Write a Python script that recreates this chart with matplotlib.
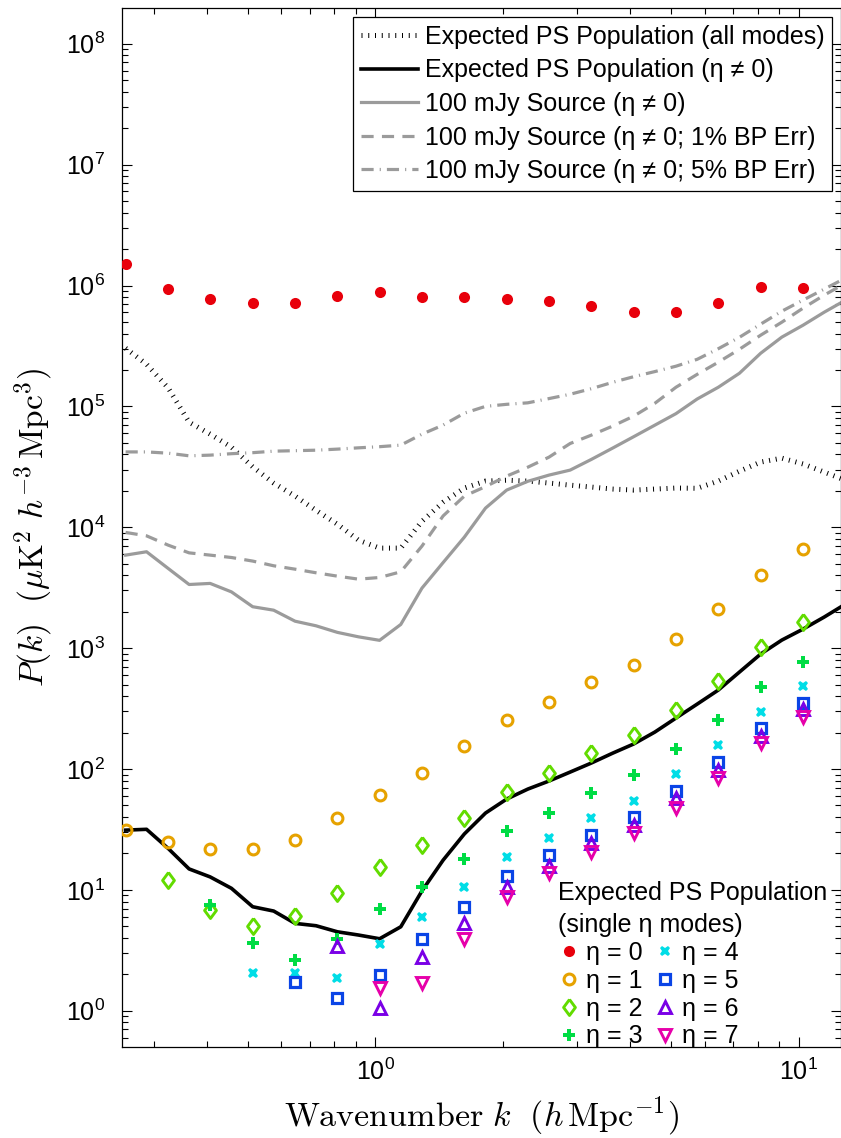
import numpy as np
import matplotlib
matplotlib.use("Agg")
import matplotlib.pyplot as plt
from matplotlib.ticker import LogLocator, FixedLocator, FuncFormatter, NullFormatter

# Wavenumbers of the individual eta-mode power spectra (h/Mpc)
k_modes = [0.257, 0.324, 0.407, 0.513, 0.646, 0.813, 1.023, 1.288, 1.622,
           2.042, 2.570, 3.236, 4.074, 5.129, 6.457, 8.128, 10.233]

# Finer wavenumber grid of the continuous curves (h/Mpc)
k_curve = [0.257, 0.288, 0.324, 0.363, 0.407, 0.457, 0.513, 0.575, 0.646,
           0.724, 0.813, 0.912, 1.023, 1.148, 1.288, 1.445, 1.622, 1.820,
           2.042, 2.291, 2.570, 2.884, 3.236, 3.631, 4.074, 4.571, 5.129,
           5.754, 6.457, 7.244, 8.128, 9.120, 10.233, 11.482, 12.882]

# Expected point-source population, all modes
ps_all_modes = [303000, 223000, 142000, 74000, 58900, 46000, 31600, 23200,
                18100, 13800, 10600, 7820, 6720, 6720, 11200, 16100, 21100,
                24100, 24500, 24100, 23200, 22300, 21500, 20700, 20300,
                20700, 21100, 21000, 24100, 29100, 34600, 37300, 33400,
                28600, 24500]

# Expected point-source population, eta != 0
ps_eta_nonzero = [31.2, 31.7, 22.0, 14.9, 12.8, 10.3, 7.25, 6.68, 5.28, 5.05,
                  4.50, 4.23, 3.94, 4.95, 9.8, 17.6, 29.0, 43.2, 56.4, 68.2,
                  79.5, 94.3, 112, 135, 161, 202, 264, 344, 450, 634, 893,
                  1165, 1436, 1806, 2310]

# 100 mJy source, eta != 0
src_100 = [5880, 6270, 4560, 3360, 3430, 2920, 2200, 2060, 1670, 1530, 1350,
           1240, 1160, 1570, 3135, 5100, 8280, 14400, 20300, 24000, 27000,
           29700, 36400, 45100, 56100, 69900, 87100, 115000, 144000, 188000,
           275000, 374000, 469000, 601000, 755000]

# 100 mJy source, eta != 0, 1% bandpass error
src_100_bp1 = [9060, 8490, 7110, 6140, 5880, 5620, 5250, 4800, 4500, 4200,
               3940, 3720, 3840, 4280, 6980, 12400, 18100, 21700, 26500,
               31400, 38000, 49300, 57800, 68600, 83000, 106000, 144000,
               184000, 232000, 297000, 388000, 497000, 649000, 832000,
               1045000]

# 100 mJy source, eta != 0, 5% bandpass error
src_100_bp5 = [42000, 42000, 41000, 39000, 39500, 40600, 41400, 42600, 43000,
               43400, 44300, 45400, 46400, 47800, 58900, 70000, 87900, 100000,
               104000, 107000, 116000, 126000, 140000, 158000, 176000, 194000,
               215000, 245000, 300000, 373000, 479000, 613000, 757000, 933000,
               1150000]

nan = np.nan
# Single eta-mode power spectra of the expected point-source population
eta_0 = [1.51e6, 9.4e5, 7.7e5, 7.2e5, 7.2e5, 8.2e5, 8.8e5, 8.05e5, 7.96e5,
         7.7e5, 7.4e5, 6.74e5, 6.05e5, 6.05e5, 7.14e5, 9.8e5, 9.55e5]
eta_1 = [31.2, 24.9, 21.6, 21.6, 25.8, 39.5, 61.2, 92, 155, 255, 356, 520,
         723, 1195, 2090, 3990, 6590]
eta_2 = [nan, 12.05, 6.8, 5.02, 6.04, 9.46, 15.4, 23.3, 39.5, 65, 93, 136,
         190, 309, 533, 1014, 1650]
eta_3 = [nan, nan, 7.5, 3.61, 2.61, 3.9, 6.98, 10.5, 18.0, 30.6, 43.4, 63.2,
         88.5, 145, 252, 478, 771]
eta_4 = [nan, nan, nan, 2.06, 2.04, 1.86, 3.56, 6.0, 10.6, 18.6, 26.8, 39.5,
         54.6, 90.7, 157, 297, 485]
eta_5 = [nan, nan, nan, nan, 1.74, 1.27, 1.96, 3.9, 7.25, 13.1, 19.3, 28.6,
         39.8, 66, 115, 219, 349]
eta_6 = [nan, nan, nan, nan, nan, 3.45, 1.06, 2.77, 5.28, 10.5, 15.7, 24.3,
         34.4, 57.1, 98, 187, 311]
eta_7 = [nan, nan, nan, nan, nan, nan, 1.53, 1.69, 3.9, 8.77, 13.7, 20.5,
         29.3, 47.8, 84.6, 165, 270]

# Decades that carry a labelled major tick
x_decades = [1, 10]
y_decades = [1e0, 1e1, 1e2, 1e3, 1e4, 1e5, 1e6, 1e7, 1e8]

curve_labels = ["Expected PS Population (all modes)",
                "Expected PS Population (\u03b7 \u2260 0)",
                "100 mJy Source (\u03b7 \u2260 0)",
                "100 mJy Source (\u03b7 \u2260 0; 1% BP Err)",
                "100 mJy Source (\u03b7 \u2260 0; 5% BP Err)"]
mode_labels = ["\u03b7 = %d" % i for i in range(8)]

plt.rcParams['font.family'] = ['Liberation Sans', 'DejaVu Sans']

fig = plt.figure(figsize=(8.41, 11.38), dpi=100)
W, H = 841.0, 1138.0
x0, x1, y0, y1 = 122.0, 840.5, 7.5, 1047.0
ax = fig.add_axes([x0 / W, 1 - y1 / H, (x1 - x0) / W, (y1 - y0) / H])
ax.set_xscale('log')
ax.set_yscale('log')

gray = '#9b9b9b'
h_all, = ax.plot(k_curve, ps_all_modes, color='black', lw=3.6,
                 linestyle=(0, (0.2, 1.15)), dash_capstyle='butt')
h_nz, = ax.plot(k_curve, ps_eta_nonzero, color='black', lw=2.6)
h_src, = ax.plot(k_curve, src_100, color=gray, lw=2.3)
h_bp1, = ax.plot(k_curve, src_100_bp1, color=gray, lw=2.3,
                 linestyle=(0, (3.8, 2.6)), dash_capstyle='butt')
h_bp5, = ax.plot(k_curve, src_100_bp5, color=gray, lw=2.3,
                 linestyle=(0, (3.8, 1.9, 0.35, 1.9)), dash_capstyle='butt')

diamond = [(0, 1), (0.74, 0), (0, -1), (-0.74, 0), (0, 1)]
mode_styles = [
    dict(marker='o', color='#e8000b', ms=8.0, mfc='#e8000b', mew=0),
    dict(marker='o', color='#e6a200', ms=7.8, mfc='none', mew=2.2),
    dict(marker=diamond, color='#62dc00', ms=11.5, mfc='none', mew=2.1),
    dict(marker='P', color='#00dc44', ms=8.5, mfc='#00dc44', mew=0),
    dict(marker='X', color='#00dde6', ms=7.5, mfc='#00dde6', mew=0),
    dict(marker='s', color='#0a44e6', ms=6.8, mfc='none', mew=2.3),
    dict(marker='^', color='#7a00e6', ms=9.2, mfc='none', mew=2.1),
    dict(marker='v', color='#e600aa', ms=9.2, mfc='none', mew=2.1),
]
mode_data = [eta_0, eta_1, eta_2, eta_3, eta_4, eta_5, eta_6, eta_7]
mode_handles = []
for vals, st, lab in zip(mode_data, mode_styles, mode_labels):
    h, = ax.plot(k_modes, vals, linestyle='none', label=lab, zorder=3, **st)
    mode_handles.append(h)

ax.set_xlim(0.252, 12.55)
ax.set_ylim(10 ** -0.30, 10 ** 8.30)

# Ticks: inward, on all four sides
ax.tick_params(which='both', direction='in', top=True, right=True,
               width=0.8, labelsize=18)
ax.tick_params(which='major', length=7)
ax.tick_params(which='minor', length=4)
ax.tick_params(axis='y', which='major', pad=12)
ax.tick_params(axis='x', which='major', pad=8)
ax.xaxis.set_major_locator(FixedLocator(x_decades))
ax.yaxis.set_major_locator(FixedLocator(y_decades))
ax.xaxis.set_minor_locator(LogLocator(base=10, subs=np.arange(2, 10), numticks=50))
ax.yaxis.set_minor_locator(LogLocator(base=10, subs=np.arange(2, 10), numticks=50))
fmt = FuncFormatter(lambda v, p: r'$\mathregular{10^{%d}}$' % int(round(np.log10(v))))
ax.xaxis.set_major_formatter(fmt)
ax.yaxis.set_major_formatter(fmt)
ax.xaxis.set_minor_formatter(NullFormatter())
ax.yaxis.set_minor_formatter(NullFormatter())
for s in ax.spines.values():
    s.set_linewidth(0.9)

ax.set_xlabel(r'$\mathrm{Wavenumber}\ k\ \ (h\,\mathrm{Mpc}^{-1})$',
              fontsize=24.5, math_fontfamily='cm', labelpad=7)
ax.set_ylabel(r'$P(k)\ \ (\mu\mathrm{K}^2\ h^{-3}\,\mathrm{Mpc}^3)$',
              fontsize=24, math_fontfamily='cm', labelpad=8)

# Legend of the continuous curves
leg1 = ax.legend([h_all, h_nz, h_src, h_bp1, h_bp5], curve_labels,
                 loc='upper right',
                 bbox_to_anchor=((832.3 - x0) / (x1 - x0), 1 - (16.7 - y0) / (y1 - y0)),
                 borderaxespad=0, fontsize=18, handlelength=2.28,
                 handletextpad=0.25, labelspacing=0.385, borderpad=0.32,
                 fancybox=False, framealpha=1, edgecolor='black')
leg1.get_frame().set_linewidth(0.9)
ax.add_artist(leg1)

# Legend of the single eta modes
leg2 = ax.legend(handles=mode_handles, ncol=2,
                 title="Expected PS Population\n(single \u03b7 modes)",
                 title_fontsize=18, fontsize=18, loc='lower right',
                 bbox_to_anchor=((827 - x0) / (x1 - x0), 1 - (1048.5 - y0) / (y1 - y0)),
                 borderaxespad=0, borderpad=0, frameon=False,
                 handlelength=0.88, handletextpad=0.25, columnspacing=0.45,
                 labelspacing=0.15, alignment='left')
leg2.get_title().set_linespacing(1.45)

fig.savefig('out.png', dpi=100)
